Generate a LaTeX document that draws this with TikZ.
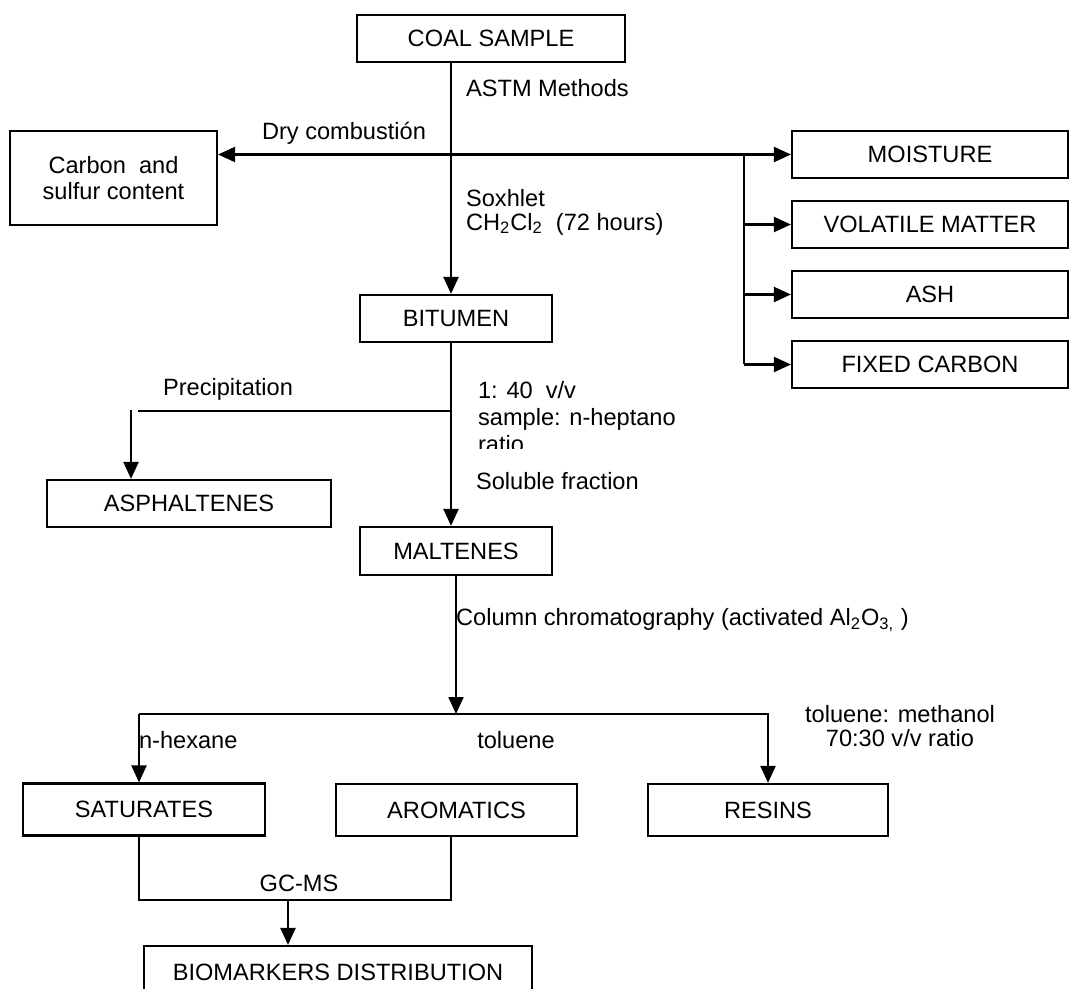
\documentclass[tikz,border=0pt]{standalone}
\usepackage{fontspec}
\setmainfont{Liberation Sans}
\usepackage{tikz}
\usetikzlibrary{arrows.meta,positioning}

\begin{document}
\begin{tikzpicture}[x=0.5pt,y=-0.5pt,line width=1.1pt,node distance=35pt,on grid,
	font=\fontsize{11.8}{12}\selectfont,
	box/.style={draw,minimum height=23.5pt,inner sep=0pt},
	flow/.style={-{Triangle[length=8.5pt,width=7.5pt]}},
	lbl/.style={inner sep=0pt}]
	\useasboundingbox (0,0) rectangle (1070,989);
	\clip (0,0) rectangle (1070,989);
	% boxes
	\node[box,minimum width=134pt] (coal) at (491,38.5) {COAL SAMPLE};
	\node[box,minimum width=103.5pt,minimum height=47pt,align=center,
		font=\fontsize{11.8}{13}\selectfont] (carbon) at (113.5,178) {Carbon\ \ and\\sulfur content};
	\node[box,minimum width=138pt] (moisture) at (930,154.5) {MOISTURE};
	\node[box,minimum width=138pt] (volatile) [below=of moisture] {VOLATILE MATTER};
	\node[box,minimum width=138pt] (ash) [below=of volatile] {ASH};
	\node[box,minimum width=138pt] (fixed) [below=of ash] {FIXED CARBON};
	\node[box,minimum width=96pt] (bitumen) at (456,318.5) {BITUMEN};
	\node[box,minimum width=142pt] (asph) at (189,503.5) {ASPHALTENES};
	\node[box,minimum width=96pt,minimum height=24pt] (maltenes) at (456,551) {MALTENES};
	\node[box,minimum width=121pt,minimum height=26pt] (saturates) at (144,809.5) {SATURATES};
	\node[box,minimum width=120.5pt,minimum height=26pt] (aromatics) at (456.5,810) {AROMATICS};
	\node[box,minimum width=120pt,minimum height=26pt] (resins) at (768,810) {RESINS};
	\node[box,minimum width=194pt,minimum height=26pt] (bio) at (338,972) {BIOMARKERS DISTRIBUTION};
	% junctions
	\coordinate (j1) at (451,154.5);
	\coordinate (j2) at (744,154.5);
	\coordinate (j3) at (451,411);
	\coordinate (p0) at (138,411);
	\coordinate (p1) at (131,410);
	\coordinate (j4) at (456,714);
	\coordinate (hx) at (139,714);
	\coordinate (g1) at (139,900);
	\coordinate (g2) at (288,900);
	% connectors
	\draw[flow] (coal.south -| j1) -- (j1 |- bitumen.north);
	\draw[flow] (j1) -- (carbon.east |- j1);
	\draw[flow] (j1) -- (moisture.west);
	\draw (j2) -- (j2 |- fixed.west);
	\foreach \n in {volatile,ash,fixed}
		\draw[flow] (j2 |- \n.west) -- (\n.west);
	\draw[flow] (bitumen.south -| j1) -- (maltenes.north -| j1);
	\draw (j3) -- (p0);
	\draw[flow] (p1) -- (p1 |- asph.north);
	\draw[flow] (maltenes.south) -- (j4);
	\draw[flow] (hx) -- (hx |- saturates.north);
	\draw[flow] (hx) -- (hx -| resins) -- (resins.north);
	\draw (saturates.south -| g1) -- (g1) -- (g1 -| j1) -- (aromatics.south -| j1);
	\draw[flow] (g2) -- (g2 |- bio.north);
	% labels
	\node[lbl,anchor=west] (astm) at (465,88) {ASTM Methods};
	\node[lbl] (dry) at (344,133) {Dry combusti\'on};
	\node[lbl,anchor=west,align=left] (sox) at (465,212) {Soxhlet\\CH\textsubscript{2}Cl\textsubscript{2}\ \ (72 hours)};
	\node[lbl] (prec) at (228,389) {Precipitation};
	\begin{scope}
		\clip (470,370) rectangle (720,448);
		\node[lbl,anchor=north west,align=left,font=\fontsize{11.8}{13.5}\selectfont]
			(ratio) at (477,380) {1: 40\ \ v/v\\sample: n-heptano\\ratio};
	\end{scope}
	\node[lbl,anchor=west] (sol) at (475,481) {Soluble fraction};
	\node[lbl,anchor=west] (col) at (455,620) {Column chromatography (activated Al\textsubscript{2}O\textsubscript{3,}\ )};
	\node[lbl,anchor=west] (hex) at (138,740) {n-hexane};
	\node[lbl] (tol) at (516,740) {toluene};
	\node[lbl,align=center] (tolm) at (900,726) {toluene: methanol\\70:30 v/v ratio};
	\node[lbl] (gcms) at (299,883) {GC-MS};
\end{tikzpicture}
\end{document}
